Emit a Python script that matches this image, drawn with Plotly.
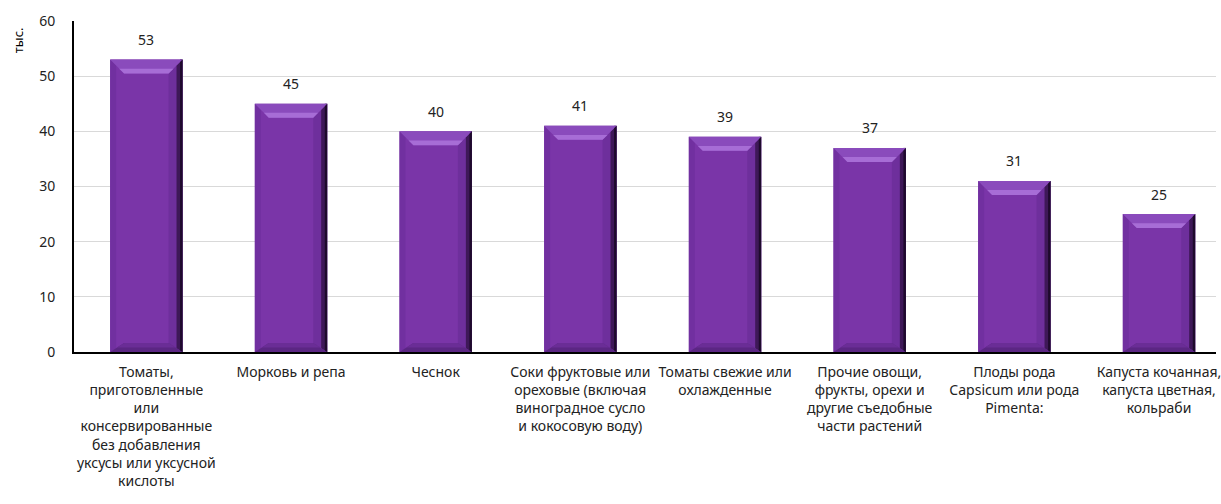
import plotly.graph_objects as go

categories = [
    "Томаты,<br>приготовленные<br>или<br>консервированные<br>без добавления<br>уксусы или уксусной<br>кислоты",
    "Морковь и репа",
    "Чеснок",
    "Соки фруктовые или<br>ореховые (включая<br>виноградное сусло<br>и кокосовую воду)",
    "Томаты свежие или<br>охлажденные",
    "Прочие овощи,<br>фрукты, орехи и<br>другие съедобные<br>части растений",
    "Плоды рода<br>Capsicum или рода<br>Pimenta:",
    "Капуста кочанная,<br>капуста цветная,<br>кольраби",
]
values = [53, 45, 40, 41, 39, 37, 31, 25]
y_ticks = [0, 10, 20, 30, 40, 50, 60]
y_title = "тыс."

FONT = "Noto Sans"
W, H = 1221, 504
ML, MR, MT, MB = 74, 0, 21, 152
BAR_W = 0.5
CAT_PX = 145.3
plot_w = W - ML - MR
plot_h = H - MT - MB
x_max = -0.5 + plot_w / CAT_PX
px_per_unit_y = plot_h / 60.0

xs = list(range(len(values)))

fig = go.Figure()
fig.add_trace(go.Bar(
    x=xs, y=values, width=BAR_W,
    marker=dict(color="#7A35A8", line=dict(width=0)),
    hoverinfo="x+y",
))

# bevel shapes computed from data values
dx = 14 / CAT_PX
dy = 14 / px_per_unit_y
dyb = 9 / px_per_unit_y
dxs = 6 / CAT_PX
shapes = []


def poly(pts, color):
    path = "M" + " L".join(f"{px},{py}" for px, py in pts) + " Z"
    return dict(type="path", xref="x", yref="y", layer="above",
                line=dict(width=0), fillcolor=color, path=path)


for x, v in zip(xs, values):
    x0, x1 = x - BAR_W / 2, x + BAR_W / 2
    # right side (narrow dark gradient-like)
    shapes.append(poly([(x1, v), (x1, 0), (x1 - dx, dyb), (x1 - dx, v - dy)], "#6E2F9C"))
    shapes.append(poly([(x1, v), (x1, 0), (x1 - dxs, dyb * dxs / dx), (x1 - dxs, v - dy * dxs / dx)], "#3E1858"))
    shapes.append(poly([(x1, v), (x1, 0), (x1 - dxs / 2.5, 0), (x1 - dxs / 2.5, v)], "#1E0A2C"))
    # left side subtle
    shapes.append(poly([(x0, v), (x0, 0), (x0 + dxs, dyb * dxs / dx), (x0 + dxs, v - dy * dxs / dx)], "#7130A0"))
    # bottom bevel
    shapes.append(poly([(x0, 0), (x1, 0), (x1 - dx, dyb), (x0 + dx, dyb)], "#5B2683"))
    shapes.append(poly([(x0 + dx * 0.5, dyb * 0.5), (x1 - dx * 0.5, dyb * 0.5), (x1 - dx, dyb), (x0 + dx, dyb)], "#6A2D96"))
    # top bevel
    shapes.append(poly([(x0, v), (x1, v), (x1 - dx, v - dy), (x0 + dx, v - dy)], "#8A4BBC"))
    shapes.append(poly([(x0 + dx * 0.65, v - dy * 0.65), (x1 - dx * 0.65, v - dy * 0.65),
                        (x1 - dx, v - dy), (x0 + dx, v - dy)], "#A76DD6"))

annotations = []
for x, v in zip(xs, values):
    annotations.append(dict(x=x, y=v, xref="x", yref="y", text=str(v), showarrow=False,
                            yshift=20, font=dict(family=FONT, size=14, color="#222222")))
annotations.append(dict(x=-56 / plot_w, y=(plot_h - (40 - MT)) / plot_h, xref="paper", yref="paper",
                        xanchor="center", yanchor="middle",
                        text=y_title, textangle=-90, showarrow=False,
                        font=dict(family=FONT, size=13, color="#000000")))

fig.update_layout(
    width=W, height=H,
    margin=dict(l=ML, r=MR, t=MT, b=MB, pad=0),
    paper_bgcolor="white", plot_bgcolor="white",
    showlegend=False,
    shapes=shapes,
    annotations=annotations,
    font=dict(family=FONT, size=14, color="#222222"),
    xaxis=dict(
        tickmode="array", tickvals=xs, ticktext=categories,
        range=[-0.5, x_max], showgrid=False, zeroline=False,
        showline=True, linecolor="#000000", linewidth=2,
        ticks="", ticklabelstandoff=6, ticklabeloverflow="allow",
        tickfont=dict(family=FONT, size=14, color="#222222"),
        tickangle=0,
    ),
    yaxis=dict(
        range=[0, 60], tickmode="array", tickvals=y_ticks,
        showgrid=True, gridcolor="#D9D9D9", gridwidth=1,
        zeroline=False, showline=True, linecolor="#000000", linewidth=2,
        ticks="", ticklabelstandoff=14, tickfont=dict(family=FONT, size=14, color="#222222"),
    ),
)

fig.write_html("out.html")
